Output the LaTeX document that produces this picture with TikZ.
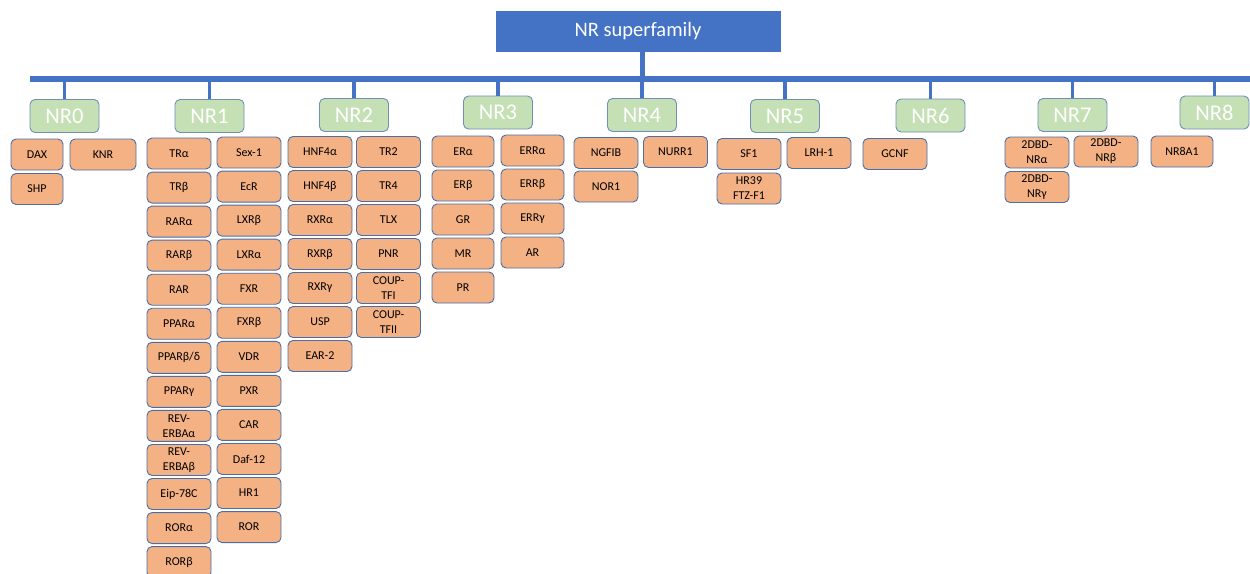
\documentclass[tikz,border=0pt]{standalone}
\usepackage{fontspec}
\setmainfont{Carlito}
\definecolor{nrblue}{HTML}{4472C4}
\definecolor{famfill}{HTML}{C5E0B4}
\definecolor{famline}{HTML}{6F8FB8}
\definecolor{leaffill}{HTML}{F4B183}
\definecolor{leafline}{HTML}{4A6FA8}
\begin{document}
\begin{tikzpicture}[x=1pt,y=-1pt,
  topbox/.style={fill=nrblue,draw=nrblue,text=white,minimum width=284pt,minimum height=40pt,inner sep=0pt,font=\fontsize{20.5}{24}\selectfont},
  fam/.style={fill=famfill,draw=famline,line width=0.9pt,rounded corners=5pt,text=white,minimum width=69pt,minimum height=33pt,inner sep=0pt,font=\fontsize{22.5}{26}\selectfont},
  leaf/.style={fill=leaffill,draw=leafline,line width=0.9pt,rounded corners=5pt,text=black,minimum width=64pt,minimum height=31pt,inner sep=0pt,align=center,font=\fontsize{12}{15}\selectfont},
  bus/.style={nrblue,line width=5.5pt},
  drop/.style={nrblue,line width=3.5pt}]
\useasboundingbox (0,0) rectangle (1250,573);
% top
\node[topbox] (top) at (638,31) {NR superfamily};
\coordinate (busL) at (30,79);
\coordinate (busR) at (1250,79);
\draw[bus] (busL) -- (busR);
\coordinate (topj) at (642,79);
\draw[nrblue,line width=5pt] (top.south -| topj) -- (topj);
% families
\node[fam] (nr0) at (64.5,116) {NR0};
\node[fam] (nr1) at (209.5,116) {NR1};
\node[fam] (nr2) at (354,115) {NR2};
\node[fam] (nr3) at (498,112.5) {NR3};
\node[fam] (nr4) at (642,115) {NR4};
\node[fam] (nr5) at (785,116) {NR5};
\node[fam] (nr6) at (930.5,115.5) {NR6};
\node[fam] (nr7) at (1072.5,115) {NR7};
\node[fam] (nr8) at (1214.5,112.5) {NR8};
\foreach \n in {nr0,nr1,nr2,nr3,nr4,nr5,nr6,nr7,nr8}{
  \draw[drop] (\n.north |- busL) -- (\n.north);
}
% NR0
\node[leaf,minimum width=52pt] (dax) at (37,154.5) {DAX};
\node[leaf,minimum width=66pt] (knr) at (103,154.5) {KNR};
\node[leaf,minimum width=52pt] (shp) at (37,189) {SHP};
% NR1 left
\foreach \t [count=\i from 0] in {TRα,TRβ,RARα,RARβ,RAR,PPARα,PPARβ/δ,PPARγ,{REV-\\ERBAα},{REV-\\ERBAβ},Eip-78C,RORα,RORβ}{
  \node[leaf] (nra\i) at (179,153.5+34.05*\i) {\t};
}
% NR1 right
\foreach \t [count=\i from 0] in {Sex-1,EcR,LXRβ,LXRα,FXR,FXRβ,VDR,PXR,CAR,Daf-12,HR1,ROR}{
  \node[leaf] (nrb\i) at (249,152.5+34.05*\i) {\t};
}
% NR2
\foreach \t [count=\i from 0] in {HNF4α,HNF4β,RXRα,RXRβ,RXRγ,USP,EAR-2}{
  \node[leaf] (nrc\i) at (320,152+34*\i) {\t};
}
\foreach \t [count=\i from 0] in {TR2,TR4,TLX,PNR,{COUP-\\TFI},{COUP-\\TFII}}{
  \node[leaf] (nrd\i) at (388.5,152+34*\i) {\t};
}
% NR3
\foreach \t [count=\i from 0] in {ERα,ERβ,GR,MR,PR}{
  \node[leaf,minimum width=62pt] (nre\i) at (463,151.5+34*\i) {\t};
}
\foreach \t [count=\i from 0] in {ERRα,ERRβ,ERRγ,AR}{
  \node[leaf,minimum width=63pt] (nrf\i) at (532.5,150.5+34*\i) {\t};
}
% NR4
\node[leaf] (ngfib) at (606,153) {NGFIB};
\node[leaf] (nurr1) at (675.5,152) {NURR1};
\node[leaf] (nor1) at (606,186.5) {NOR1};
% NR5
\node[leaf] (sf1) at (749,154) {SF1};
\node[leaf] (lrh1) at (819,153) {LRH-1};
\node[leaf] (hr39) at (749,188.5) {HR39\\FTZ-F1};
% NR6
\node[leaf] (gcnf) at (895,154) {GCNF};
% NR7
\node[leaf] (dbda) at (1037,152.5) {2DBD-\\NRα};
\node[leaf] (dbdb) at (1106,151.5) {2DBD-\\NRβ};
\node[leaf] (dbdg) at (1037,187) {2DBD-\\NRγ};
% NR8
\node[leaf,minimum width=62pt] (nr8a1) at (1182,151.5) {NR8A1};
\end{tikzpicture}
\end{document}
